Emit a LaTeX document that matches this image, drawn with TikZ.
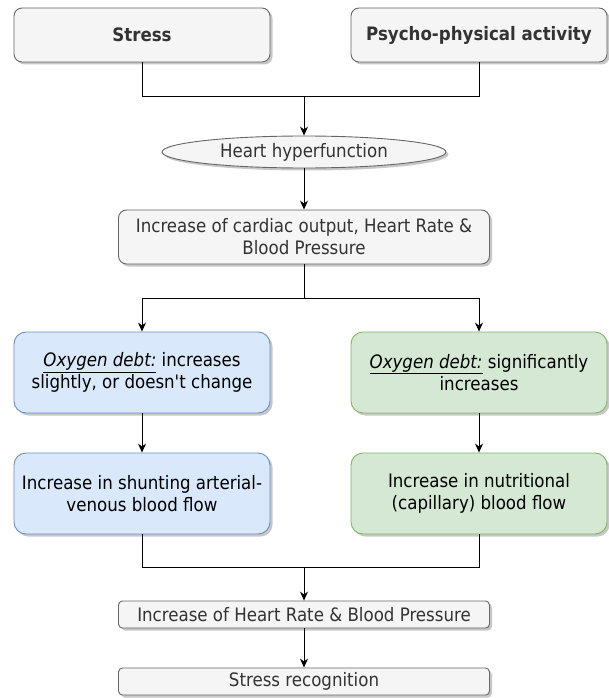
\documentclass[tikz,border=0pt]{standalone}
\usepackage{fontspec}
\setmainfont{DejaVu Sans Condensed}
\usetikzlibrary{arrows.meta,shadows,shapes.geometric}
\definecolor{grayfill}{HTML}{F5F5F5}
\definecolor{graydraw}{HTML}{666666}
\definecolor{graytext}{HTML}{333333}
\definecolor{bluefill}{HTML}{DAE8FC}
\definecolor{bluedraw}{HTML}{6C8EBF}
\definecolor{greenfill}{HTML}{D5E8D4}
\definecolor{greendraw}{HTML}{82B366}
\begin{document}
\begin{tikzpicture}[x=1pt,y=-1pt,
  shad/.style={drop shadow={shadow xshift=2.5pt,shadow yshift=-2.5pt,fill=black,opacity=0.22}},
  box/.style={draw, line width=0.9pt, align=center, inner sep=2pt, font=\fontsize{18.5}{22}\selectfont, shad},
  graybox/.style={box, fill=grayfill, draw=graydraw, text=graytext},
  bluebox/.style={box, fill=bluefill, draw=bluedraw, text=black, minimum width=256pt, minimum height=81pt, rounded corners=12pt},
  greenbox/.style={box, fill=greenfill, draw=greendraw, text=black, minimum width=256pt, minimum height=81pt, rounded corners=12pt},
  conn/.style={line width=0.9pt, black},
  arr/.style={conn, -{Stealth[length=9pt,width=8pt]}}
]
\useasboundingbox (0,0) rectangle (608,698);
\node[graybox, minimum width=256pt, minimum height=54pt, rounded corners=8pt, font=\fontsize{18.5}{22}\selectfont\bfseries] (stress) at (142,35) {Stress};
\node[graybox, minimum width=256pt, minimum height=54pt, rounded corners=8pt, font=\fontsize{18.5}{22}\selectfont\bfseries] (psycho) at (479,35) {Psycho-physical activity};
\node[graybox, ellipse, minimum width=284pt, minimum height=32pt, inner sep=0pt] (hyper) at (304,152) {Heart hyperfunction};
\node[graybox, minimum width=371pt, minimum height=54pt, rounded corners=8pt] (cardiac) at (304,237) {Increase of cardiac output, Heart Rate \&\\Blood Pressure};
\node[bluebox] (blue1) at (142,372.5) {\underline{\textit{Oxygen debt:}} increases\\slightly, or doesn\textquotesingle t change};
\node[greenbox] (green1) at (479,372.5) {\underline{\textit{Oxygen debt:}} significantly\\increases};
\node[bluebox] (blue2) at (142,493.5) {Increase in shunting arterial-\\venous blood flow};
\node[greenbox] (green2) at (479,493.5) {Increase in nutritional\\(capillary) blood flow};
\node[graybox, minimum width=371pt, minimum height=27pt, rounded corners=4pt] (hr) at (304,614.5) {Increase of Heart Rate \& Blood Pressure};
\node[graybox, minimum width=371pt, minimum height=27pt, rounded corners=4pt] (sr) at (304,681.5) {Stress recognition};
\coordinate (j1) at (304,96);
\coordinate (j2) at (304,298);
\coordinate (j3) at (304,567);
\draw[conn] (stress.south) |- (j1);
\draw[conn] (psycho.south) |- (j1);
\draw[arr] (j1) -- (hyper.north);
\draw[arr] (hyper.south) -- (cardiac.north);
\draw[conn] (cardiac.south) -- (j2);
\draw[arr] (j2) -| (blue1.north);
\draw[arr] (j2) -| (green1.north);
\draw[arr] (blue1.south) -- (blue2.north);
\draw[arr] (green1.south) -- (green2.north);
\draw[conn] (blue2.south) |- (j3);
\draw[conn] (green2.south) |- (j3);
\draw[arr] (j3) -- (hr.north);
\draw[arr] (hr.south) -- (sr.north);
\end{tikzpicture}
\end{document}
